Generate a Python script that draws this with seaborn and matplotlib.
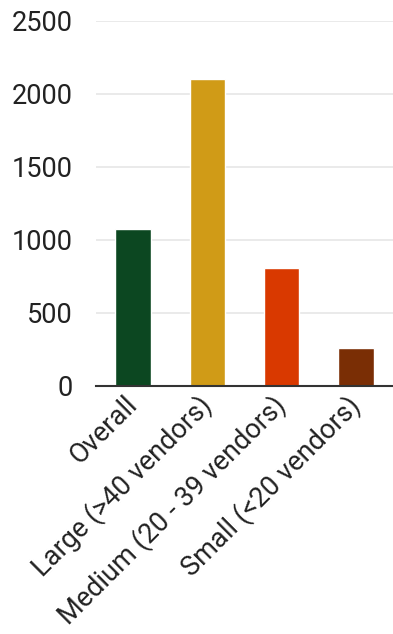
import matplotlib
matplotlib.use("Agg")
import matplotlib.pyplot as plt
import seaborn as sns
import pandas as pd

categories = ["Overall", "Large (>40 vendors)", "Medium (20 - 39 vendors)", "Small (<20 vendors)"]
values = [1075, 2105, 808, 259]
bar_colors = ["#0c4721", "#d09b17", "#d93900", "#7a2e05"]
y_ticks = [0, 500, 1000, 1500, 2000, 2500]

sns.set_theme(style="white")
plt.rcParams["font.family"] = ["Roboto", "DejaVu Sans"]

df = pd.DataFrame({"category": categories, "value": values})

fig = plt.figure(figsize=(3.93, 6.34), dpi=100)
ax = fig.add_axes([96 / 393, 1 - 385.7 / 634, 1 - 96 / 393, (385.7 - 21) / 634])

sns.barplot(data=df, x="category", y="value", hue="category", palette=bar_colors,
            width=0.48, legend=False, ax=ax, saturation=1)

ax.set_ylim(0, 2500)
ax.set_xlim(-0.5, 3.5)
ax.set_yticks(y_ticks)
ax.set_yticklabels([str(t) for t in y_ticks], fontsize=19.5, color="#222222")
ax.yaxis.grid(True, color="#e6e6e6", linewidth=1.2)
ax.set_axisbelow(True)
ax.tick_params(axis="y", length=0, pad=17)
ax.tick_params(axis="x", length=0, pad=11)
ax.set_xticks(range(len(categories)))
ax.set_xticklabels(categories, rotation=45, ha="right", va="center",
                   rotation_mode="anchor", fontsize=19.5, color="#222222")
ax.set_xlabel("")
ax.set_ylabel("")
for s in ["top", "right", "left"]:
    ax.spines[s].set_visible(False)
ax.spines["bottom"].set_color("#333333")
ax.spines["bottom"].set_linewidth(1.5)

fig.savefig("out.png", dpi=100)
